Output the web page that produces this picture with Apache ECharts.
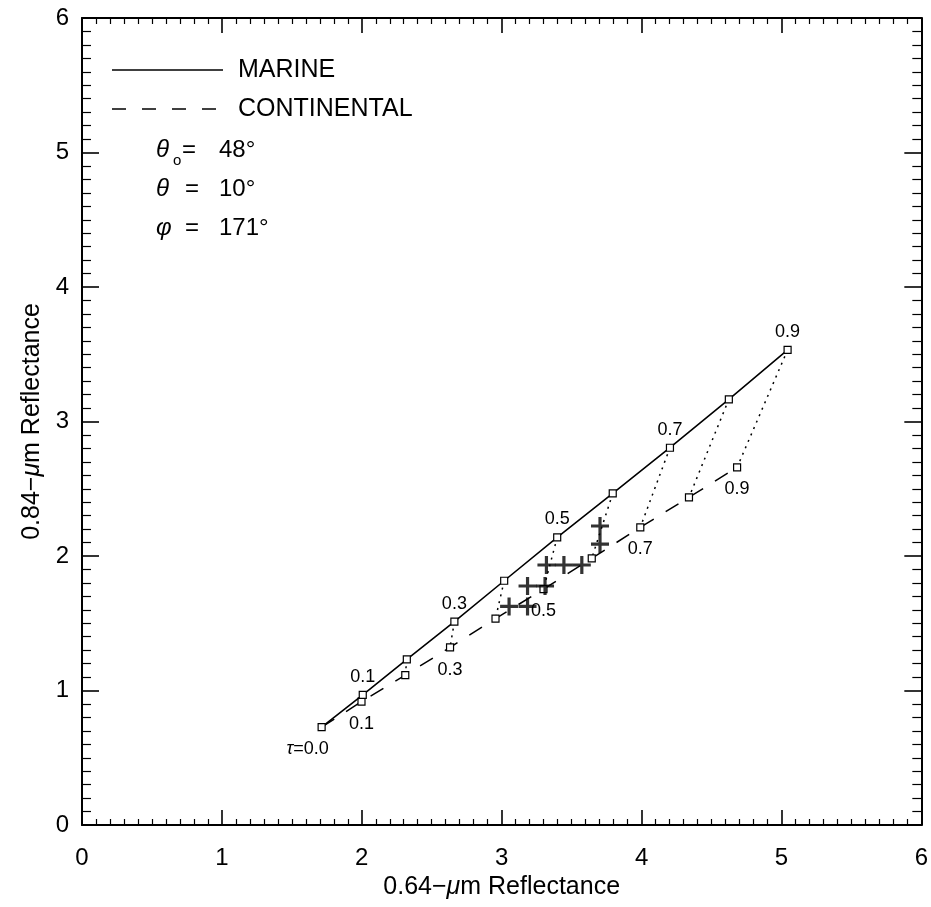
<!DOCTYPE html>
<html><head><meta charset="utf-8">
<script src="https://cdn.jsdelivr.net/npm/echarts@6/dist/echarts.min.js"></script>
<style>html,body{margin:0;padding:0;background:#fff}#c{width:931px;height:907px}</style>
</head><body><div id="c"></div>
<script>
// ---- data ----
const tau = [0.0, 0.1, 0.2, 0.3, 0.4, 0.5, 0.6, 0.7, 0.8, 0.9];
const marineX = [1.713, 2.007, 2.322, 2.662, 3.018, 3.397, 3.794, 4.203, 4.624, 5.044];
const marineY = [0.727, 0.967, 1.232, 1.512, 1.816, 2.139, 2.465, 2.805, 3.165, 3.532];
const contX = [1.713, 1.998, 2.311, 2.631, 2.956, 3.299, 3.644, 3.991, 4.339, 4.683];
const contY = [0.727, 0.917, 1.115, 1.320, 1.535, 1.753, 1.983, 2.213, 2.436, 2.659];
const crossX = [3.703, 3.703, 3.320, 3.445, 3.573, 3.185, 3.310, 3.053, 3.185];
const crossY = [2.223, 2.089, 1.933, 1.933, 1.933, 1.777, 1.777, 1.625, 1.625];
const labelTaus = [0.1, 0.3, 0.5, 0.7, 0.9];
const xTickLabels = ['0', '1', '2', '3', '4', '5', '6'];
const yTickLabels = ['0', '1', '2', '3', '4', '5', '6'];
const xTitle = '0.64\u2212{i|\u03bc}m Reflectance';
const yTitle = '0.84\u2212{i|\u03bc}m Reflectance';
const legendNames = ['MARINE', 'CONTINENTAL'];

// ---- style ----
const FF = '"Liberation Sans", Arial, Helvetica, sans-serif';
const K = '#000';
const isLab = t => labelTaus.some(v => Math.abs(v - t) < 1e-9);

function axisCommon(pos, isX, showLabels, labels) {
  return {
    type: 'value', position: pos, min: 0, max: 6, interval: 1,
    axisLine: { show: true, onZero: false, lineStyle: { color: K, width: 2 } },
    axisTick: { show: true, inside: true, length: isX ? 15 : 17, lineStyle: { color: K, width: 1.6 } },
    minorTick: { show: true, splitNumber: 10, length: isX ? 6 : 9, lineStyle: { color: K, width: 1.2 } },
    splitLine: { show: false },
    axisLabel: {
      show: showLabels, color: K, fontSize: 24, fontFamily: FF, margin: isX ? 21 : 13,
      formatter: v => labels ? labels[Math.round(v)] : ''
    }
  };
}

const marineData = tau.map((t, i) => {
  const item = { value: [marineX[i], marineY[i]] };
  if (i === 0) {
    item.label = { show: true, position: 'bottom', distance: 9, offset: [-14, 0],
      formatter: '{t|\u03c4}=0.0' };
  } else if (isLab(t)) {
    item.label = { show: true, position: 'top', distance: 5, formatter: t.toFixed(1) };
  }
  return item;
});
const contData = tau.map((t, i) => {
  const item = { value: [contX[i], contY[i]] };
  if (i === 0) item.symbol = 'none';
  else if (isLab(t)) item.label = { show: true, position: 'bottom', distance: 9, formatter: t.toFixed(1) };
  return item;
});
const linkData = tau.slice(1).map((t, k) => ({
  coords: [[marineX[k + 1], marineY[k + 1]], [contX[k + 1], contY[k + 1]]]
}));
const crossData = crossX.map((x, i) => [x, crossY[i]]);

const labelStyle = { color: K, fontSize: 18, fontFamily: FF,
  rich: { t: { fontStyle: 'italic', fontSize: 18, fontFamily: FF, color: K } } };

const chart = echarts.init(document.getElementById('c'), null, { renderer: 'canvas' });
chart.setOption({
  animation: false,
  backgroundColor: '#fff',
  grid: { left: 82, right: 5, top: 18, bottom: 82, containLabel: false },
  xAxis: [
    Object.assign(axisCommon('bottom', true, true, xTickLabels), {
      name: xTitle, nameLocation: 'middle', nameGap: 47,
      nameTextStyle: { color: K, fontSize: 25, fontFamily: FF,
        rich: { i: { fontStyle: 'italic', fontSize: 25, fontFamily: FF, color: K } } }
    }),
    axisCommon('top', true, false, null)
  ],
  yAxis: [
    Object.assign(axisCommon('left', false, true, yTickLabels), {
      name: yTitle, nameLocation: 'middle', nameGap: 36, nameRotate: 90,
      nameTextStyle: { color: K, fontSize: 25, fontFamily: FF,
        rich: { i: { fontStyle: 'italic', fontSize: 25, fontFamily: FF, color: K } } }
    }),
    axisCommon('right', false, false, null)
  ],
  series: [
    {
      name: 'links', type: 'lines', coordinateSystem: 'cartesian2d',
      xAxisIndex: 0, yAxisIndex: 0, data: linkData, z: 1,
      lineStyle: { color: K, width: 1.5, type: [2, 5], opacity: 1 }
    },
    {
      name: legendNames[1], type: 'line', data: contData, z: 2,
      symbol: 'rect', symbolSize: 7,
      itemStyle: { color: '#fff', borderColor: K, borderWidth: 1.2 },
      lineStyle: { color: K, width: 1.5, type: [15, 14] },
      label: labelStyle
    },
    {
      name: legendNames[0], type: 'line', data: marineData, z: 3,
      symbol: 'rect', symbolSize: 7,
      itemStyle: { color: '#fff', borderColor: K, borderWidth: 1.2 },
      lineStyle: { color: K, width: 1.6, type: 'solid' },
      label: labelStyle
    },
    {
      name: 'obs', type: 'scatter', data: crossData, z: 4,
      symbol: 'path://M-9,-1.6H9V1.6H-9Z M-1.6,-9H1.6V9H-1.6Z',
      symbolSize: [18, 18],
      itemStyle: { color: K }
    }
  ],
  graphic: [
    { type: 'line', shape: { x1: 112, y1: 70, x2: 223, y2: 70 }, style: { stroke: K, lineWidth: 1.6 } },
    { type: 'text', x: 238, y: 70, style: { text: legendNames[0], fill: K, font: '25px ' + FF, verticalAlign: 'middle' } },
    { type: 'line', shape: { x1: 112, y1: 109, x2: 223, y2: 109 }, style: { stroke: K, lineWidth: 1.6, lineDash: [14, 16] } },
    { type: 'text', x: 238, y: 109, style: { text: legendNames[1], fill: K, font: '25px ' + FF, verticalAlign: 'middle' } },

    { type: 'text', x: 156, y: 150, style: { text: '\u03b8', fill: K, font: 'italic 24px ' + FF, verticalAlign: 'middle' } },
    { type: 'text', x: 173, y: 161, style: { text: 'o', fill: K, font: '15px ' + FF, verticalAlign: 'middle' } },
    { type: 'text', x: 182, y: 150, style: { text: '=', fill: K, font: '24px ' + FF, verticalAlign: 'middle' } },
    { type: 'text', x: 219, y: 150, style: { text: '48\u00b0', fill: K, font: '24px ' + FF, verticalAlign: 'middle' } },

    { type: 'text', x: 156, y: 189, style: { text: '\u03b8', fill: K, font: 'italic 24px ' + FF, verticalAlign: 'middle' } },
    { type: 'text', x: 185, y: 189, style: { text: '=', fill: K, font: '24px ' + FF, verticalAlign: 'middle' } },
    { type: 'text', x: 219, y: 189, style: { text: '10\u00b0', fill: K, font: '24px ' + FF, verticalAlign: 'middle' } },

    { type: 'text', x: 156, y: 228, style: { text: '\u03c6', fill: K, font: 'italic 24px ' + FF, verticalAlign: 'middle' } },
    { type: 'text', x: 185, y: 228, style: { text: '=', fill: K, font: '24px ' + FF, verticalAlign: 'middle' } },
    { type: 'text', x: 219, y: 228, style: { text: '171\u00b0', fill: K, font: '24px ' + FF, verticalAlign: 'middle' } }
  ]
});
</script>
</body></html>
